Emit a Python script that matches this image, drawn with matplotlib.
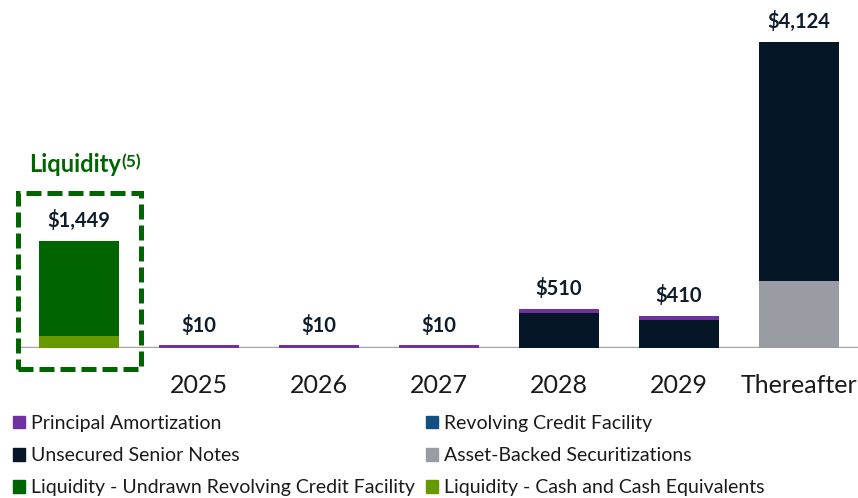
import matplotlib
matplotlib.use("Agg")
import matplotlib.pyplot as plt
from matplotlib.patches import Patch, Rectangle

plt.rcParams["font.family"] = ["Lato", "DejaVu Sans"]

categories = ["", "2025", "2026", "2027", "2028", "2029", "Thereafter"]
liq_undrawn = [1279, 0, 0, 0, 0, 0, 0]
liq_cash = [170, 0, 0, 0, 0, 0, 0]
abs_sec = [0, 0, 0, 0, 0, 0, 905]
senior_notes = [0, 0, 0, 0, 470, 375, 3219]
revolver = [0, 0, 0, 0, 0, 0, 0]
amortization = [0, 40, 40, 40, 65, 65, 0]
total_labels = ["$1,449", "$10", "$10", "$10", "$510", "$410", "$4,124"]

C_PURPLE = "#7030a0"
C_NAVY = "#051726"
C_BLUE = "#124f82"
C_GREY = "#999da3"
C_DKGREEN = "#006400"
C_LTGREEN = "#669900"
C_TEXT = "#0d1b2a"

fig = plt.figure(figsize=(8.58, 4.98), dpi=100)
ax = fig.add_axes([0, 0.3006, 1, 0.6994])

x = list(range(len(categories)))
w = 0.667
bottom = [0] * len(x)
stack = [
    (liq_cash, C_LTGREEN),
    (liq_undrawn, C_DKGREEN),
    (abs_sec, C_GREY),
    (senior_notes, C_NAVY),
    (revolver, C_BLUE),
    (amortization, C_PURPLE),
]
for vals, col in stack:
    ax.bar(x, vals, w, bottom=bottom, color=col, linewidth=0)
    bottom = [b + v for b, v in zip(bottom, vals)]

for xi, top, lab in zip(x, bottom, total_labels):
    ax.annotate(lab, (xi, top), xytext=(0, 14.5), textcoords="offset points",
                ha="center", va="center", fontsize=14.5, fontweight="bold", color=C_TEXT)

ax.axhline(0, xmin=20 / 858, xmax=1, color="#a6a6a6", lw=2.5, zorder=0)

# liquidity dashed box + title
box = Rectangle((-0.5125, -278), 1.03, 2373, fill=False, edgecolor=C_DKGREEN,
                lw=3.6, linestyle=(0, (3, 1.2)), clip_on=False)
ax.add_patch(box)
t = ax.text(-0.035, 2365, "Liquidity", ha="center", va="baseline", fontsize=17,
            fontweight="bold", color=C_DKGREEN)
ax.annotate("(5)", xy=(1, 1), xycoords=t, xytext=(0.5, 0), textcoords="offset points",
            ha="left", va="top", fontsize=12.5, fontweight="bold", color=C_DKGREEN)

ax.set_xlim(-79 / 120, (858 - 79) / 120)
ax.set_ylim(0, 4685)
ax.set_xticks(x)
ax.set_xticklabels(categories, fontsize=18, color="#1a1a1a")
ax.tick_params(axis="x", length=0, pad=18.5)
ax.set_yticks([])
for s in ax.spines.values():
    s.set_visible(False)

col1 = [
    Patch(color=C_PURPLE, label="Principal Amortization"),
    Patch(color=C_NAVY, label="Unsecured Senior Notes"),
    Patch(color=C_DKGREEN, label="Liquidity - Undrawn Revolving Credit Facility"),
]
col2 = [
    Patch(color=C_BLUE, label="Revolving Credit Facility"),
    Patch(color=C_GREY, label="Asset-Backed Securitizations"),
    Patch(color=C_LTGREEN, label="Liquidity - Cash and Cash Equivalents"),
]
leg_kw = dict(loc="upper left", frameon=False, fontsize=14, handlelength=0.62,
              handleheight=0.62, handletextpad=0.3, labelspacing=0.78,
              borderpad=0, borderaxespad=0, labelcolor="#1a1a1a")
fig.legend(handles=col1, bbox_to_anchor=(13 / 858, 1 - 415 / 498), **leg_kw)
fig.legend(handles=col2, bbox_to_anchor=(426 / 858, 1 - 415 / 498), **leg_kw)

fig.savefig("out.png", dpi=100)
